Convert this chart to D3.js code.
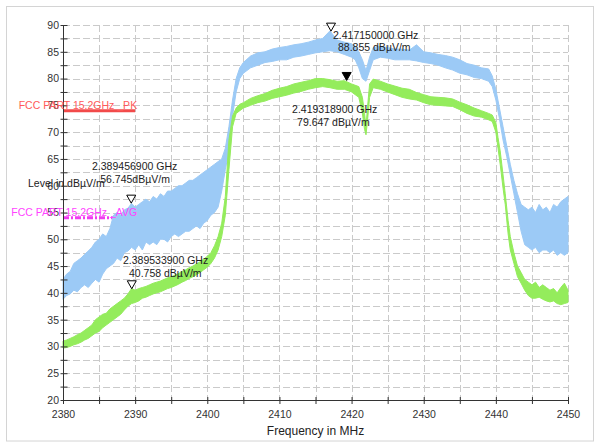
<!DOCTYPE html>
<html><head><meta charset="utf-8">
<script src="https://cdn.jsdelivr.net/npm/d3@7"></script>
<style>
body{margin:0;background:#fff}
svg{display:block}
text{font-family:"Liberation Sans",Arial,sans-serif}
</style>
</head><body>
<svg id="c" width="597" height="443"></svg>
<script>
// ---------- data ----------
const peakFreq = [2380,2380.5,2381,2381.5,2382,2382.5,2383,2383.5,2384,2384.5,2385,2385.5,2386,2386.5,2387,2387.5,2388,2388.5,2389,2389.5,
  2390,2390.5,2391,2391.5,2392,2392.5,2393,2393.5,2394,2394.5,2395,2395.5,2396,2396.5,2397,2397.5,2398,2398.5,2399,2399.5,
  2400,2400.5,2401,2401.5,2402,2402.5,2403,2403.5,2404,2404.5,2405,2406,2407,2408,2409,2410,2411,2412,2413,2414,
  2415,2416,2417,2418,2419,2420,2420.5,2421,2421.5,2422,2422.5,2423,2424,2425,2426,2427,2428,2429,2430,2431,
  2432,2433,2434,2435,2436,2437,2438,2439,2439.5,2440,2440.5,2441,2441.5,2442,2442.5,2443,2443.5,2444,2444.5,2445,
  2445.5,2446,2446.5,2447,2447.5,2448,2448.5,2449,2449.5,2450];
const peakHi = [42.5,43.5,44.0,45.5,46.0,46.5,47.2,47.8,48.5,49.5,50.0,51.0,50.5,52.0,54.5,55.0,54.5,55.5,55.8,56.7,
  56.0,56.5,57.0,57.5,57.0,58.0,57.5,58.5,58.0,59.0,59.0,59.5,60.0,60.0,60.5,61.0,61.0,61.5,62.0,62.5,
  63.0,63.5,64.0,64.5,65.0,67.0,71.0,76.0,80.0,82.0,83.0,84.2,84.8,85.0,85.5,85.8,86.0,86.3,86.5,86.8,
  87.2,87.5,88.9,87.2,86.8,86.5,86.0,85.0,83.5,81.5,84.0,85.8,86.0,85.8,85.5,85.5,85.3,86.3,85.0,84.8,
  84.5,84.3,84.0,83.5,82.8,82.5,82.0,81.8,80.5,78.0,74.5,71.0,67.5,64.0,61.0,58.5,56.5,56.0,55.5,56.0,
  55.0,56.5,55.5,56.0,55.0,56.5,56.0,57.0,57.5,58.0];
const peakLo = [38.8,39.5,39.8,40.5,40.2,41.0,41.5,41.0,41.8,42.5,42.0,43.5,44.5,45.0,45.5,46.5,46.0,47.5,47.8,48.5,
  48.0,49.0,48.0,49.5,49.0,49.5,49.0,50.0,50.0,49.5,50.5,51.0,50.5,51.0,51.5,51.5,52.0,52.5,52.0,53.0,
  53.5,54.5,55.0,56.0,59.0,63.0,66.5,73.0,77.5,80.0,81.0,82.0,82.5,83.0,83.2,83.5,83.5,84.0,84.2,84.5,
  84.8,85.0,85.2,85.0,84.5,84.0,83.5,82.0,80.0,79.5,81.5,83.5,84.0,83.8,83.5,83.5,83.5,83.3,83.0,82.8,
  82.5,82.0,81.6,81.0,80.7,80.2,80.0,79.5,78.5,76.0,72.5,68.5,65.5,62.0,58.5,55.0,51.5,49.0,48.5,48.0,
  48.5,47.5,48.0,48.0,47.5,48.0,47.0,47.5,47.0,47.5];

const avgFreq = [2380,2380.5,2381,2381.5,2382,2382.5,2383,2383.5,2384,2384.5,2385,2385.5,2386,2386.5,2387,2387.5,2388,2388.5,2389,2389.5,
  2390,2390.5,2391,2391.5,2392,2392.5,2393,2393.5,2394,2394.5,2395,2395.5,2396,2396.5,2397,2397.5,2398,2398.5,2399,2399.5,
  2400,2400.5,2401,2401.5,2402,2402.5,2403,2403.5,2404,2404.5,2405,2406,2407,2408,2409,2410,2411,2412,2413,2414,
  2415,2416,2417,2418,2419,2420,2421,2421.5,2421.8,2422,2422.2,2422.5,2423,2424,2425,2426,2427,2428,2429,2430,
  2431,2432,2433,2434,2435,2436,2437,2438,2439,2439.5,2440,2440.3,2440.6,2441,2441.3,2441.7,2442,2442.5,2443,2443.5,
  2444,2444.5,2445,2445.5,2446,2446.5,2447,2447.5,2448,2448.5,2449,2449.5,2450];
const avgHi = [31.0,31.2,31.5,31.8,32.2,32.5,33.0,33.5,34.0,35.0,35.5,36.0,36.2,37.0,37.5,38.0,38.5,39.0,39.8,40.8,
  40.5,40.8,41.0,41.2,41.5,41.8,42.0,42.2,42.5,42.8,43.0,43.3,43.6,44.0,44.3,44.7,45.0,45.4,45.8,46.3,
  46.8,47.5,48.8,50.5,53.0,58.0,68.5,73.0,74.5,75.2,75.5,76.3,76.8,77.2,77.8,78.2,78.5,79.0,79.3,79.6,
  80.0,80.0,79.8,79.5,79.6,79.0,78.5,76.5,73.5,71.0,74.5,79.0,79.9,79.5,79.0,78.6,78.2,78.0,77.4,77.0,
  76.6,76.5,76.4,76.2,75.6,75.1,74.5,74.0,73.5,73.2,71.8,69.0,66.5,62.0,58.5,53.5,50.5,47.5,45.0,43.8,
  42.5,42.0,41.5,42.0,41.0,41.5,41.0,40.5,40.8,40.0,41.0,41.8,40.5];
const avgLo = [29.7,29.8,30.0,30.3,30.5,30.8,31.2,31.5,32.0,32.5,32.8,33.5,34.0,34.5,35.0,35.5,36.0,36.8,37.5,38.0,
  38.2,38.5,39.0,39.2,39.5,39.8,40.0,40.2,40.5,40.8,41.0,41.3,41.6,42.0,42.3,42.7,43.0,43.4,43.8,44.3,
  44.8,45.5,46.5,48.0,50.5,54.5,63.0,71.0,73.5,74.0,74.5,75.0,75.5,75.8,76.3,76.6,76.9,77.3,77.6,78.0,
  78.3,78.5,78.3,78.0,78.0,77.5,76.5,73.5,70.5,69.5,72.0,76.5,78.3,78.0,77.5,77.0,76.5,76.2,76.0,75.5,
  75.1,75.0,74.9,74.8,74.2,73.5,73.0,72.8,72.3,72.0,70.0,67.0,64.0,59.5,56.5,51.0,48.0,45.5,43.0,41.8,
  40.5,39.5,39.0,39.0,39.2,38.8,38.5,38.3,38.5,38.0,37.8,38.0,38.2];

const xTickValues = [2380,2390,2400,2410,2420,2430,2440,2450];
const xMinorValues = [2385,2395,2405,2415,2425,2435,2445];
const yTickValues = [20,25,30,35,40,45,50,55,60,65,70,75,80,85,90];
const yMinorValues = [22.5,27.5,32.5,37.5,42.5,47.5,52.5,57.5,62.5,67.5,72.5,77.5,82.5,87.5];

const limitNames = ["FCC PART 15.2GHz _PK","FCC PART 15.2GHz _AVG"];
const limitLevels = [74, 54];
const limitStart = [2380, 2380];
const limitEnd = [2390, 2390];

const markerFreq = [2417.15, 2419.3189, 2389.4569, 2389.5339];
const markerLevel = [88.855, 79.647, 56.745, 40.758];
const markerFreqText = ["2.417150000 GHz","2.419318900 GHz","2.389456900 GHz","2.389533900 GHz"];
const markerLevelText = ["88.855 dBµV/m","79.647 dBµV/m","56.745dBµV/m","40.758 dBµV/m"];
const markerFilled = [false, true, false, false];

const yAxisTitle = "Level in dBµV/m";
const xAxisTitle = "Frequency in MHz";

// ---------- drawing ----------
const svg = d3.select("#c");
const FS = "10.5px";
const x = d3.scaleLinear().domain([2380,2450]).range([63,568]);
const y = d3.scaleLinear().domain([20,90]).range([400,25]);

svg.append("rect").attr("x",6.5).attr("y",6.5).attr("width",587).attr("height",434.5)
  .attr("fill","#fff").attr("stroke","#d4d4d4");

// grid
const grid = svg.append("g").attr("stroke","#cacaca").attr("stroke-dasharray","7,3").attr("stroke-width",1);
xTickValues.concat(xMinorValues).forEach(v=>{
  const px = Math.round(x(v))+0.5;
  grid.append("line").attr("x1",px).attr("x2",px).attr("y1",y(90)).attr("y2",y(20));
});
yTickValues.concat(yMinorValues).forEach(v=>{
  const py = Math.round(y(v))+0.5;
  grid.append("line").attr("x1",x(2380)).attr("x2",x(2450)).attr("y1",py).attr("y2",py);
});

// limit lines
const limitColors = ["#f24a4a","#f03cf0"];
const limitText = ["#ff5a5a","#ff44ff"];
svg.append("line").attr("x1",x(limitStart[0])).attr("x2",x(limitEnd[0]))
  .attr("y1",y(limitLevels[0])).attr("y2",y(limitLevels[0]))
  .attr("stroke",limitColors[0]).attr("stroke-width",3);
svg.append("line").attr("x1",x(limitStart[1])).attr("x2",x(limitEnd[1]))
  .attr("y1",y(limitLevels[1])).attr("y2",y(limitLevels[1]))
  .attr("stroke",limitColors[1]).attr("stroke-width",3).attr("stroke-dasharray","6,2,2,2");

// traces
const peakData = peakFreq.map((f,i)=>({f, hi:peakHi[i], lo:peakLo[i]}));
const avgData = avgFreq.map((f,i)=>({f, hi:avgHi[i], lo:avgLo[i]}));
const area = d3.area().x(d=>x(d.f)).y0(d=>y(d.lo)).y1(d=>y(d.hi));
svg.append("path").datum(peakData).attr("d",area).attr("fill","#9ccaf6").attr("stroke","#9ccaf6").attr("stroke-width",1);
svg.append("path").datum(avgData).attr("d",area).attr("fill","#94ec5c").attr("stroke","#94ec5c").attr("stroke-width",1);

// axes
const axL = svg.append("g").attr("transform","translate(63,0)")
  .call(d3.axisLeft(y).tickValues(yTickValues).tickFormat(d3.format("d")).tickSize(3));
axL.select(".domain").attr("stroke","#333").attr("d","M0.5,25V400.5");
axL.selectAll(".tick line").attr("x1",-3).attr("x2",4).attr("stroke","#333").attr("transform","translate(0.5,0)");
axL.selectAll(".tick text").attr("x",-4).attr("fill","#333").style("font-size",FS);
const axLm = svg.append("g").attr("transform","translate(63,0)")
  .call(d3.axisLeft(y).tickValues(yMinorValues).tickFormat("").tickSize(3));
axLm.select(".domain").remove();
axLm.selectAll(".tick line").attr("x1",-3).attr("x2",4).attr("stroke","#333").attr("transform","translate(0.5,0)");

const axB = svg.append("g").attr("transform","translate(0,400)")
  .call(d3.axisBottom(x).tickValues(xTickValues).tickFormat(d3.format("d")).tickSize(3));
axB.select(".domain").attr("stroke","#333").attr("d","M63,0.5H568");
axB.selectAll(".tick line").attr("y1",-3).attr("y2",4).attr("stroke","#333");
axB.selectAll(".tick text").attr("y",18).attr("dy",0).attr("fill","#333").style("font-size",FS);
const axBm = svg.append("g").attr("transform","translate(0,400)")
  .call(d3.axisBottom(x).tickValues(xMinorValues).tickFormat("").tickSize(3));
axBm.select(".domain").remove();
axBm.selectAll(".tick line").attr("y1",-3).attr("y2",4).attr("stroke","#333");

// titles
svg.append("text").attr("x",(x(2380)+x(2450))/2).attr("y",435).attr("text-anchor","middle")
  .style("font-size","12px").attr("fill","#222").text(xAxisTitle);
svg.append("text").attr("x",28).attr("y",187).style("font-size",FS).attr("fill","#222").text(yAxisTitle);

// limit labels
limitNames.forEach((n,i)=>{
  svg.append("text").attr("x",x(limitEnd[i])+2).attr("y",y(limitLevels[i])-(i===0?1.8:2))
    .attr("text-anchor","end").style("font-size",FS).attr("fill",limitText[i]).text(n);
});

// markers
const labelOffsets = [[2,7.5,7,19.5],[-54.6,33,-49.6,46],[-39.2,-33,-31,-20],[-8.8,-25,-2.8,-12]];
markerFreq.forEach((f,i)=>{
  const mx = x(f), my = y(markerLevel[i]);
  svg.append("path").attr("d",`M${mx-4.5},${my-8}L${mx+4.5},${my-8}L${mx},${my}Z`)
    .attr("fill",markerFilled[i]?"#000":"#fff").attr("stroke","#000").attr("stroke-width",1);
  const o = labelOffsets[i];
  svg.append("text").attr("x",mx+o[0]).attr("y",my+o[1]).style("font-size",FS).attr("fill","#222").text(markerFreqText[i]);
  svg.append("text").attr("x",mx+o[2]).attr("y",my+o[3]).style("font-size",FS).attr("fill","#222").text(markerLevelText[i]);
});
</script>
</body></html>
